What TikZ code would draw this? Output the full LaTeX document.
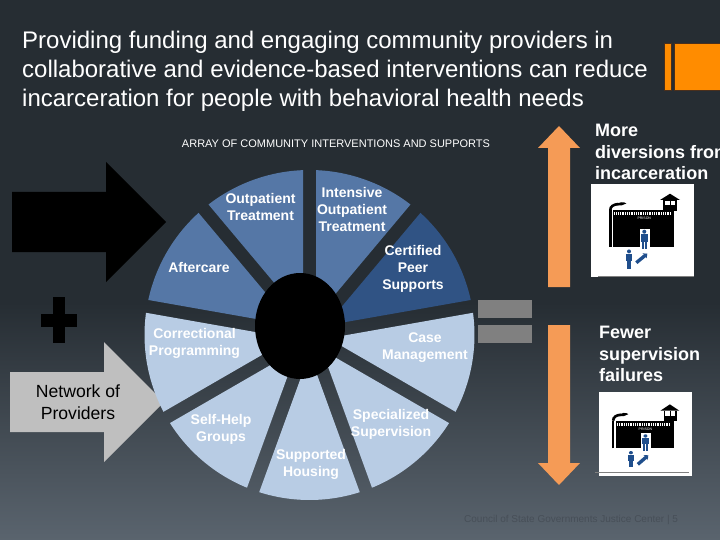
\documentclass[tikz,border=0pt]{standalone}
\usepackage{fontspec}
\setmainfont{Liberation Sans}
\usetikzlibrary{arrows.meta,positioning}
\definecolor{bghigh}{HTML}{262D33}
\definecolor{bglow}{HTML}{5A646E}
\definecolor{wfmid}{HTML}{5577A6}
\definecolor{wfdark}{HTML}{305384}
\definecolor{wflight}{HTML}{B8CCE4}
\definecolor{wforange}{HTML}{F59B56}
\definecolor{wfbar}{HTML}{FF8C00}
\definecolor{wfbrown}{HTML}{4A2F1C}
\definecolor{wfgrey}{HTML}{BFBFBF}
\definecolor{wfbutton}{HTML}{808080}
\definecolor{wffoot}{HTML}{474F58}
\definecolor{wfinmate}{HTML}{1F4E8C}
\pgfdeclareverticalshading{slideback}{100bp}{color(0bp)=(bglow); color(25bp)=(bglow); color(47bp)=(bghigh); color(75bp)=(bghigh); color(100bp)=(bghigh)}
\def\wallh{36.7}
\def\doorh{18}
\tikzset{
  wf title/.style={anchor=north west, inner sep=0pt, align=left, text=white,
    font=\fontsize{24}{29}\selectfont},
  wf wedge label/.style={inner sep=0pt, align=center, text=white,
    font=\fontsize{14}{17}\selectfont\bfseries},
  wf side label/.style={anchor=north west, inner sep=0pt, align=left, text=white,
    font=\fontsize{18}{21.7}\selectfont\bfseries},
  wf photo/.style={fill=white},
  wf rule/.style={draw=gray, line width=0.8pt},
  wf orange arrow/.style={fill=wforange},
  inmate/.pic={
    \fill[wfinmate] (0,2) circle (2);
    \fill[wfinmate] (-3.2,4.5) rectangle (3.2,12);
    \fill[wfinmate] (-2.4,12) rectangle (-0.3,19.5);
    \fill[wfinmate] (0.3,12) rectangle (2.4,19.5);
  },
  prison/.pic={
    \fill[black] (0,0) rectangle (60.7,-\wallh);
    \draw[black, line width=2.6pt] (-3,0) -- (-3,-\wallh);
    \fill[white] (26.7,-\doorh) rectangle (36.7,0);
    \begin{scope}[shift={(0,-\wallh)}]
      \draw[white, line width=3pt, dash pattern=on 1pt off 0.8pt] (1,3.7) -- (57,3.7);
      \draw[black, line width=2.6pt] (-3,0) .. controls (-3,-3.5) and (0,-5.5) .. (5,-6);
      \fill[black] (2,-4.5) .. controls (5,-8.5) and (11,-8.5) .. (13,-6.5) -- (8,-4.5) -- cycle;
      \fill[black] (46.7,-10) -- (56.7,-16.3) -- (66.7,-10) -- cycle;
      \fill[black] (50,-10) rectangle (64,0.7);
      \fill[white] (52,-9.3) rectangle (56.6,-5.1);
      \fill[white] (57.6,-9.3) rectangle (62,-5.1);
      \node[text=white, inner sep=0pt, font=\fontsize{3.5}{4}\selectfont] (-prisonsign) at (31,8.5) {PRISON};
    \end{scope}
    \pic[yscale=\doorh/18] at (31,-\doorh+1) {inmate};
    \pic[yscale=\doorh/18] at (15.7,2.7) {inmate};
    \draw[wfinmate, line width=3.4pt, -{Stealth[length=3.5pt,width=6.5pt]}] (23,16) -- (34,7);
  }
}

\begin{document}
\begin{tikzpicture}[x=1pt, y=-1pt]
  \useasboundingbox (0,0) rectangle (720,540);
  \shade[shading=slideback] (0,0) rectangle (720,540);

  % heading
  \node[wf title] (title) at (22,31) {Providing funding and engaging community providers in\\
    collaborative and evidence-based interventions can reduce\\
    incarceration for people with behavioral health needs};
  \draw[fill=wfbar, draw=wfbrown, line width=1pt] (664,44) rectangle (671,91);
  \draw[fill=wfbar, draw=wfbrown, line width=1pt] (674,44) rectangle (722,91);

  \node[text=white, inner sep=0pt, font=\fontsize{11}{13}\selectfont] (arraytitle) at (336,144)
    {ARRAY OF COMMUNITY INTERVENTIONS AND SUPPORTS};

  % left side
  \fill[black] (12,192) -- (106,192) -- (106,162) -- (166,222) -- (106,282) -- (106,252) -- (12,252) -- cycle;
  \fill[black] (41,314) rectangle (77,327);
  \fill[black] (53,297) rectangle (65,343);
  \fill[wfgrey] (10,372) -- (104,372) -- (104,342) -- (164,402) -- (104,462) -- (104,432) -- (10,432) -- cycle;
  \node[text=black, inner sep=0pt, align=center, font=\fontsize{17.6}{22}\selectfont] (network) at (78,402) {Network of\\Providers};

  % wheel
  \begin{scope}[shift={(309.5,335)}, y=1pt]
    \foreach \ang/\col in {90/wfmid,50/wfmid,130/wfmid,10/wfdark,170/wflight,210/wflight,250/wflight,290/wflight,330/wflight} {
      \fill[\col] (\ang+20:19) -- (\ang+2.26:165) arc[start angle=\ang+2.26, end angle=\ang+37.74, radius=165] -- cycle;
    }
  \end{scope}
  \fill[black] (300,326) ellipse [x radius=45, y radius=53];

  \node[wf wedge label] (outpatient) at (260.5,207) {Outpatient\\Treatment};
  \node[wf wedge label] (intensive) at (352,209) {Intensive\\Outpatient\\Treatment};
  \node[wf wedge label] (certified) at (413,269) {Certified\\Peer\\Supports};
  \node[wf wedge label] (aftercare) at (199,267) {Aftercare};
  \node[wf wedge label] (correctional) at (194.5,343.5) {Correctional\\Programming};
  \node[wf wedge label] (casemgmt) at (425,348) {Case\\Management};
  \node[wf wedge label] (specialized) at (391,424) {Specialized\\Supervision};
  \node[wf wedge label] (selfhelp) at (221,429) {Self-Help\\Groups};
  \node[wf wedge label] (housing) at (311,464) {Supported\\Housing};

  % buttons between wheel and arrows
  \fill[wfbutton] (478,300) rectangle (532,318);
  \fill[wfbutton] (478,325) rectangle (532,343);

  % outcome arrows
  \fill[wf orange arrow] (548,287) -- (548,148) -- (538,148) -- (559,126) -- (580,148) -- (570,148) -- (570,287) -- cycle;
  \fill[wf orange arrow] (548,325) -- (548,463) -- (538,463) -- (559,485) -- (580,463) -- (570,463) -- (570,325) -- cycle;

  % outcomes
  \node[wf side label] (diversions) at (595,124) {More\\diversions from\\incarceration};
  \node[wf side label] (failures) at (599,326) {Fewer\\supervision\\failures};

  \fill[wf photo] (591,184) rectangle (694,277);
  \draw[wf rule] (598,276) -- (694,276);
  \pic at (613.3,246.7) {prison};

  \fill[wf photo] (599,392) rectangle (692,476);
  \draw[wf rule] (595,472.5) -- (689,472.5);
  \begin{scope}
    \def\wallh{27.6}
    \def\doorh{15}
    \pic[xscale=.95] at (616,448.3) {prison};
  \end{scope}

  \node[anchor=west, inner sep=0pt, text=wffoot, font=\fontsize{10}{12}\selectfont] (footer) at (464,520)
    {Council of State Governments Justice Center | 5};
\end{tikzpicture}
\end{document}
